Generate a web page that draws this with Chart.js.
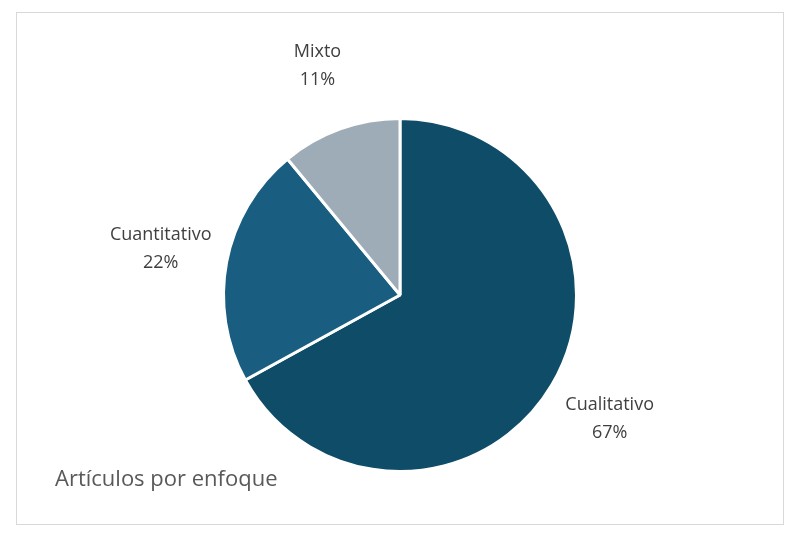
<!DOCTYPE html>
<html><head><meta charset="utf-8">
<script src="https://cdn.jsdelivr.net/npm/chart.js@4"></script>
<style>html,body{margin:0;padding:0;background:#fff}#w{width:797px;height:548px}</style>
</head><body><div id="w"><canvas id="c"></canvas></div>
<script>
const categories = ["Cualitativo", "Cuantitativo", "Mixto"];
const values = [67, 22, 11];
const colors = ["#0f4c68", "#195e80", "#9eacb7"];
const title = "Artículos por enfoque";

const deco = {
  id: 'deco',
  beforeDraw(chart) {
    const ctx = chart.ctx;
    ctx.save();
    ctx.strokeStyle = '#d9d9d9'; ctx.lineWidth = 1;
    ctx.strokeRect(16.5, 12.5, 767, 512);
    ctx.restore();
  },
  afterDraw(chart) {
    const ctx = chart.ctx;
    const meta = chart.getDatasetMeta(0);
    const total = values.reduce((a, b) => a + b, 0);
    ctx.save();
    ctx.fillStyle = '#404040';
    ctx.font = '18px "Open Sans"';
    ctx.textAlign = 'center'; ctx.textBaseline = 'middle';
    meta.data.forEach((arc, i) => {
      const mid = (arc.startAngle + arc.endAngle) / 2;
      const r = arc.outerRadius * 1.38;
      const x = arc.x + Math.cos(mid) * r, y = arc.y + Math.sin(mid) * r;
      ctx.fillText(categories[i], x, y - 14);
      ctx.fillText(Math.round(values[i] / total * 100) + '%', x, y + 14);
    });
    ctx.fillStyle = '#595959';
    ctx.font = '22px "Open Sans"';
    ctx.textAlign = 'left';
    ctx.fillText(title, 55, 480);
    ctx.restore();
  }
};

new Chart(document.getElementById('c'), {
  type: 'pie',
  data: { labels: categories, datasets: [{ data: values, backgroundColor: colors, borderColor: '#fff', borderWidth: 3 }] },
  options: {
    responsive: true, maintainAspectRatio: false, animation: false,
    layout: { padding: { left: 3, right: 0, top: 117, bottom: 75 } },
    plugins: { legend: { display: false }, tooltip: { enabled: false } }
  },
  plugins: [deco]
});
</script></body></html>
